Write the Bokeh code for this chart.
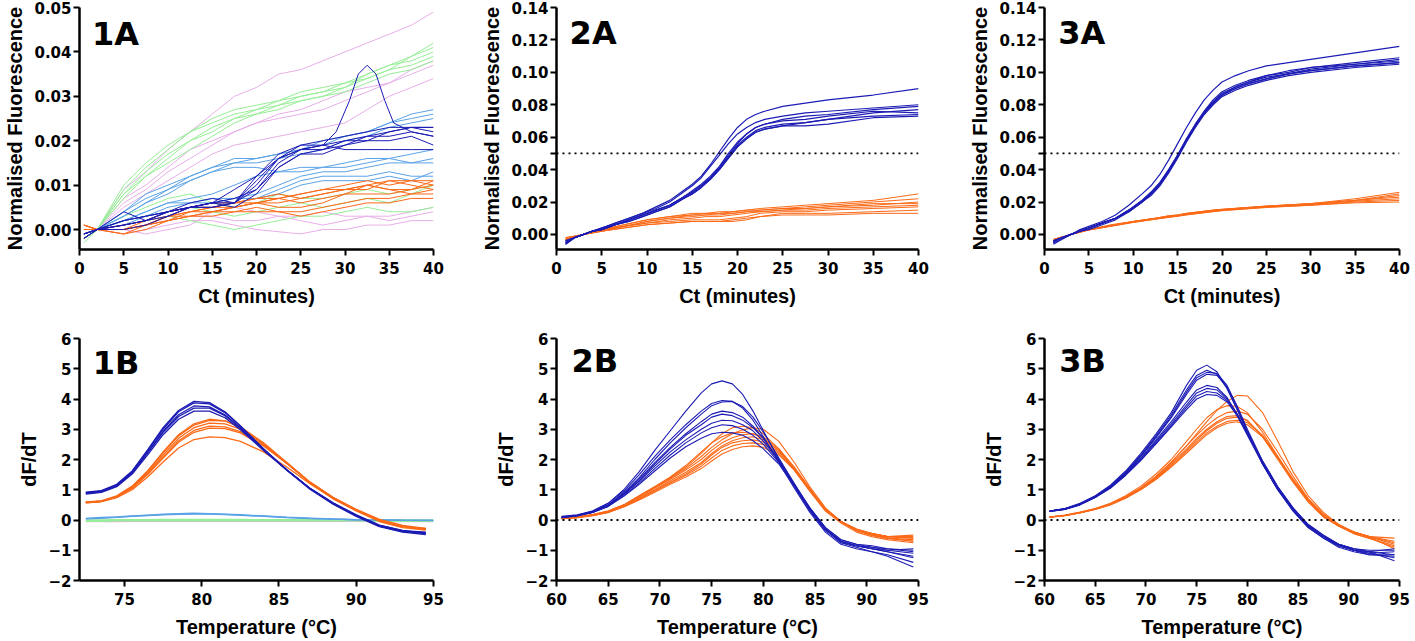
from bokeh.plotting import figure
from bokeh.layouts import column, row
from bokeh.models import Range1d, FixedTicker, PrintfTickFormatter, Span, Label
from bokeh.embed import file_html
from bokeh.resources import INLINE

# ---------------- colours ----------------
DARK = "#1c1cb4"
ORANGE = "#fb6a18"
LIGHTBLUE = "#5aa2e6"
GREEN = "#96ee96"
PINK = "#e8aee8"

# ---------------- Panel 1A (Ct, minutes) ----------------
x1A = [0.5, 2, 5, 7.5, 10, 12.5, 15, 17.5, 20, 22.5, 25, 27.5, 30, 32.5, 35, 37.5, 40]
pink_1A = [
    [-0.001, 0.0, 0.009, 0.013, 0.018, 0.022, 0.026, 0.030, 0.032, 0.035, 0.036, 0.038, 0.040, 0.042, 0.044, 0.046, 0.049],
    [-0.001, 0.0, 0.007, 0.010, 0.014, 0.018, 0.020, 0.022, 0.024, 0.026, 0.027, 0.029, 0.031, 0.032, 0.033, 0.035, 0.037],
    [-0.001, 0.0, 0.005, 0.008, 0.011, 0.014, 0.017, 0.019, 0.020, 0.021, 0.022, 0.023, 0.024, 0.027, 0.030, 0.032, 0.034],
    [-0.001, 0.0, 0.006, 0.009, 0.013, 0.016, 0.019, 0.022, 0.024, 0.025, 0.026, 0.027, 0.029, 0.031, 0.033, 0.036, 0.038],
    [-0.001, 0.0, -0.001, 0.0, 0.001, 0.002, 0.002, 0.001, 0.000, -0.0005, -0.001, 0.0, 0.0, 0.001, 0.001, 0.002, 0.002],
    [-0.001, 0.0, 0.0, 0.001, 0.002, 0.003, 0.003, 0.002, 0.002, 0.003, 0.002, 0.001, 0.002, 0.003, 0.003, 0.004, 0.005],
    [-0.001, 0.0, 0.0, -0.001, 0.0, 0.001, 0.004, 0.005, 0.004, 0.003, 0.003, 0.004, 0.003, 0.003, 0.002, 0.003, 0.004],
]
green_1A = [
    [-0.002, 0.0, 0.010, 0.015, 0.019, 0.022, 0.025, 0.027, 0.028, 0.029, 0.030, 0.031, 0.033, 0.035, 0.037, 0.039, 0.041],
    [-0.002, 0.0, 0.009, 0.014, 0.018, 0.022, 0.024, 0.026, 0.027, 0.029, 0.031, 0.032, 0.033, 0.034, 0.036, 0.039, 0.042],
    [-0.003, 0.0, 0.008, 0.013, 0.017, 0.020, 0.023, 0.025, 0.027, 0.028, 0.029, 0.030, 0.032, 0.035, 0.037, 0.038, 0.040],
    [-0.002, 0.0, 0.007, 0.012, 0.016, 0.020, 0.022, 0.025, 0.026, 0.027, 0.029, 0.030, 0.031, 0.033, 0.035, 0.036, 0.038],
    [-0.002, 0.0, 0.008, 0.012, 0.015, 0.018, 0.021, 0.024, 0.026, 0.028, 0.030, 0.031, 0.032, 0.034, 0.036, 0.037, 0.039],
    [-0.002, 0.0, 0.002, 0.003, 0.004, 0.005, 0.004, 0.003, 0.004, 0.005, 0.006, 0.005, 0.006, 0.007, 0.006, 0.008, 0.010],
    [-0.002, 0.0, 0.001, 0.002, 0.003, 0.002, 0.001, 0.000, 0.001, 0.002, 0.003, 0.003, 0.004, 0.005, 0.004, 0.004, 0.005],
    [-0.002, 0.0, 0.003, 0.005, 0.007, 0.008, 0.006, 0.005, 0.006, 0.008, 0.007, 0.007, 0.008, 0.009, 0.008, 0.009, 0.010],
]
lightblue_1A = [
    [-0.001, 0.0, 0.004, 0.008, 0.010, 0.012, 0.014, 0.016, 0.016, 0.017, 0.018, 0.020, 0.021, 0.022, 0.024, 0.026, 0.027],
    [-0.001, 0.0, 0.004, 0.007, 0.009, 0.011, 0.013, 0.015, 0.016, 0.017, 0.018, 0.019, 0.021, 0.022, 0.024, 0.025, 0.026],
    [-0.001, 0.0, 0.003, 0.006, 0.009, 0.012, 0.014, 0.015, 0.015, 0.016, 0.017, 0.018, 0.020, 0.021, 0.023, 0.024, 0.025],
    [-0.001, 0.0, 0.003, 0.006, 0.008, 0.011, 0.013, 0.014, 0.014, 0.013, 0.013, 0.014, 0.014, 0.015, 0.016, 0.015, 0.016],
    [-0.001, 0.0, 0.002, 0.004, 0.006, 0.006, 0.007, 0.007, 0.008, 0.010, 0.012, 0.013, 0.013, 0.014, 0.015, 0.015, 0.015],
    [-0.001, 0.0, 0.002, 0.003, 0.005, 0.006, 0.006, 0.007, 0.007, 0.009, 0.011, 0.012, 0.012, 0.012, 0.013, 0.012, 0.012],
    [-0.001, 0.0, 0.001, 0.003, 0.004, 0.005, 0.006, 0.006, 0.007, 0.008, 0.010, 0.011, 0.011, 0.011, 0.012, 0.011, 0.013],
    [-0.001, 0.0, 0.002, 0.004, 0.006, 0.007, 0.008, 0.010, 0.012, 0.013, 0.014, 0.014, 0.015, 0.016, 0.016, 0.017, 0.018],
]
dark_1A = [
    [-0.001, 0.0, 0.002, 0.003, 0.004, 0.005, 0.005, 0.006, 0.012, 0.017, 0.019, 0.019, 0.020, 0.021, 0.022, 0.023, 0.023],
    [-0.002, 0.0, 0.001, 0.002, 0.004, 0.005, 0.006, 0.006, 0.010, 0.016, 0.018, 0.018, 0.019, 0.020, 0.022, 0.023, 0.022],
    [-0.002, 0.0, 0.004, 0.002, 0.003, 0.005, 0.006, 0.007, 0.009, 0.015, 0.018, 0.019, 0.018, 0.018, 0.018, 0.018, 0.018],
    [-0.001, 0.0, 0.000, 0.001, 0.003, 0.005, 0.006, 0.005, 0.008, 0.014, 0.017, 0.017, 0.019, 0.021, 0.021, 0.022, 0.021],
    [-0.001, 0.0, 0.001, 0.002, 0.004, 0.006, 0.007, 0.006, 0.011, 0.016, 0.019, 0.020, 0.021, 0.022, 0.023, 0.023, 0.023],
    [-0.002, 0.0, 0.001, 0.002, 0.004, 0.005, 0.005, 0.006, 0.009, 0.014, 0.017, 0.018, 0.020, 0.020, 0.020, 0.021, 0.019],
]
x1A_spike = [0.5, 2, 5, 7.5, 10, 12.5, 15, 17.5, 20, 22.5, 25, 27.5, 29, 30.5, 31.5, 32.5, 33.5, 34.5, 35.5, 37.5, 40]
dark_1A_spike = [-0.001, 0.0, 0.002, 0.003, 0.004, 0.005, 0.006, 0.009, 0.012, 0.016, 0.018, 0.019, 0.022, 0.029, 0.035, 0.037, 0.035, 0.029, 0.024, 0.022, 0.021]
orange_1A = [
    [0.001, 0.0, 0.000, 0.002, 0.004, 0.005, 0.005, 0.006, 0.007, 0.007, 0.008, 0.009, 0.010, 0.011, 0.010, 0.011, 0.010],
    [0.001, 0.0, -0.001, 0.001, 0.003, 0.004, 0.004, 0.005, 0.006, 0.006, 0.007, 0.008, 0.009, 0.009, 0.011, 0.010, 0.009],
    [0.000, 0.0, 0.000, 0.001, 0.002, 0.004, 0.005, 0.005, 0.006, 0.007, 0.006, 0.007, 0.008, 0.010, 0.009, 0.009, 0.011],
    [0.000, 0.0, 0.001, 0.002, 0.003, 0.003, 0.004, 0.005, 0.006, 0.005, 0.005, 0.006, 0.008, 0.008, 0.008, 0.009, 0.010],
    [0.001, 0.0, 0.000, 0.001, 0.002, 0.003, 0.004, 0.004, 0.005, 0.004, 0.004, 0.005, 0.006, 0.007, 0.007, 0.008, 0.008],
    [0.000, 0.0, -0.001, 0.000, 0.002, 0.003, 0.003, 0.004, 0.004, 0.004, 0.003, 0.004, 0.005, 0.006, 0.006, 0.007, 0.007],
    [0.001, 0.0, 0.000, 0.001, 0.003, 0.005, 0.006, 0.006, 0.006, 0.007, 0.008, 0.009, 0.009, 0.010, 0.011, 0.011, 0.011],
    [0.000, 0.0, 0.000, 0.001, 0.003, 0.004, 0.005, 0.006, 0.007, 0.008, 0.007, 0.008, 0.009, 0.010, 0.009, 0.008, 0.009],
]

# ---------------- Panel 2A ----------------
x2A_blue = [1, 2, 3, 4, 5, 6.5, 8, 9.5, 11, 12.5, 14, 15, 16, 17, 18, 19, 20, 21, 22, 23, 25, 27.5, 30, 35, 40]
blue_2A = [
    [-0.005, -0.002, 0.0, 0.002, 0.004, 0.007, 0.010, 0.013, 0.017, 0.021, 0.027, 0.031, 0.036, 0.043, 0.051, 0.059, 0.066, 0.071, 0.074, 0.076, 0.079, 0.081, 0.083, 0.086, 0.090],
    [-0.004, -0.002, 0.0, 0.002, 0.004, 0.007, 0.010, 0.013, 0.016, 0.020, 0.026, 0.030, 0.035, 0.042, 0.049, 0.056, 0.062, 0.066, 0.069, 0.071, 0.073, 0.075, 0.076, 0.078, 0.080],
    [-0.005, -0.002, 0.0, 0.002, 0.003, 0.006, 0.009, 0.012, 0.015, 0.018, 0.023, 0.026, 0.030, 0.035, 0.041, 0.049, 0.056, 0.062, 0.066, 0.068, 0.071, 0.073, 0.074, 0.077, 0.079],
    [-0.006, -0.002, 0.0, 0.002, 0.003, 0.006, 0.009, 0.012, 0.015, 0.018, 0.023, 0.026, 0.030, 0.035, 0.041, 0.048, 0.055, 0.060, 0.064, 0.066, 0.068, 0.069, 0.071, 0.075, 0.077],
    [-0.005, -0.002, 0.0, 0.002, 0.003, 0.006, 0.008, 0.011, 0.014, 0.017, 0.022, 0.025, 0.029, 0.034, 0.040, 0.047, 0.054, 0.059, 0.063, 0.065, 0.067, 0.067, 0.068, 0.072, 0.073],
    [-0.006, -0.002, 0.0, 0.002, 0.004, 0.006, 0.009, 0.012, 0.015, 0.018, 0.023, 0.027, 0.031, 0.036, 0.042, 0.050, 0.057, 0.062, 0.066, 0.068, 0.070, 0.071, 0.073, 0.076, 0.075],
    [-0.004, -0.002, 0.0, 0.002, 0.003, 0.006, 0.008, 0.011, 0.014, 0.017, 0.022, 0.025, 0.029, 0.034, 0.040, 0.047, 0.054, 0.059, 0.063, 0.065, 0.067, 0.069, 0.071, 0.073, 0.074],
]
x2A_orange = [1, 3, 5, 7.5, 10, 12.5, 15, 16.5, 18, 19.5, 21, 22.5, 25, 27.5, 30, 35, 40]
orange_2A = [
    [-0.003, 0.0, 0.003, 0.006, 0.009, 0.011, 0.013, 0.013, 0.014, 0.014, 0.015, 0.016, 0.017, 0.018, 0.019, 0.021, 0.025],
    [-0.003, 0.0, 0.003, 0.006, 0.009, 0.011, 0.012, 0.013, 0.013, 0.014, 0.015, 0.015, 0.016, 0.017, 0.018, 0.020, 0.022],
    [-0.002, 0.0, 0.003, 0.005, 0.008, 0.010, 0.011, 0.012, 0.012, 0.013, 0.014, 0.014, 0.015, 0.016, 0.017, 0.018, 0.020],
    [-0.003, 0.0, 0.002, 0.005, 0.007, 0.009, 0.010, 0.011, 0.011, 0.012, 0.013, 0.014, 0.015, 0.015, 0.016, 0.017, 0.018],
    [-0.004, 0.0, 0.002, 0.005, 0.007, 0.008, 0.009, 0.009, 0.009, 0.010, 0.011, 0.013, 0.014, 0.014, 0.015, 0.016, 0.017],
    [-0.003, 0.0, 0.002, 0.004, 0.006, 0.007, 0.008, 0.008, 0.008, 0.009, 0.010, 0.011, 0.013, 0.013, 0.013, 0.014, 0.015],
    [-0.003, 0.0, 0.002, 0.004, 0.006, 0.007, 0.008, 0.008, 0.008, 0.008, 0.009, 0.011, 0.012, 0.012, 0.012, 0.013, 0.013],
    [-0.002, 0.0, 0.003, 0.005, 0.008, 0.010, 0.012, 0.012, 0.013, 0.013, 0.014, 0.015, 0.016, 0.016, 0.017, 0.019, 0.019],
]

# ---------------- Panel 3A ----------------
x3A_blue = [1, 2, 3, 4, 5, 6.5, 8, 9.5, 11, 12, 13, 14, 15, 16, 17, 18, 19, 20, 21.5, 23, 25, 27.5, 30, 35, 40]
blue_3A = [
    [-0.006, -0.003, 0.0, 0.003, 0.005, 0.008, 0.012, 0.018, 0.025, 0.030, 0.037, 0.046, 0.056, 0.066, 0.075, 0.083, 0.089, 0.094, 0.098, 0.101, 0.104, 0.106, 0.108, 0.112, 0.116],
    [-0.005, -0.002, 0.0, 0.002, 0.004, 0.007, 0.010, 0.015, 0.021, 0.026, 0.032, 0.040, 0.049, 0.059, 0.068, 0.076, 0.082, 0.087, 0.091, 0.094, 0.097, 0.099, 0.102, 0.105, 0.108],
    [-0.004, -0.002, 0.0, 0.002, 0.004, 0.007, 0.010, 0.015, 0.021, 0.025, 0.031, 0.039, 0.048, 0.058, 0.067, 0.075, 0.081, 0.086, 0.090, 0.093, 0.096, 0.099, 0.101, 0.104, 0.106],
    [-0.005, -0.002, 0.0, 0.002, 0.004, 0.007, 0.010, 0.014, 0.020, 0.025, 0.031, 0.039, 0.048, 0.058, 0.067, 0.075, 0.081, 0.086, 0.091, 0.094, 0.098, 0.100, 0.103, 0.105, 0.107],
    [-0.004, -0.002, 0.0, 0.002, 0.003, 0.006, 0.009, 0.014, 0.020, 0.024, 0.030, 0.038, 0.047, 0.057, 0.066, 0.074, 0.080, 0.085, 0.089, 0.092, 0.095, 0.098, 0.100, 0.103, 0.105],
    [-0.005, -0.002, 0.0, 0.002, 0.004, 0.007, 0.010, 0.015, 0.021, 0.026, 0.032, 0.040, 0.049, 0.059, 0.068, 0.076, 0.083, 0.088, 0.092, 0.095, 0.098, 0.101, 0.103, 0.106, 0.109],
    [-0.004, -0.002, 0.0, 0.002, 0.004, 0.007, 0.010, 0.014, 0.020, 0.025, 0.031, 0.039, 0.048, 0.058, 0.067, 0.075, 0.081, 0.086, 0.090, 0.093, 0.096, 0.099, 0.101, 0.104, 0.106],
]
x3A_orange = [1, 3, 5, 7.5, 10, 12.5, 14, 15, 16, 17.5, 19, 20, 22.5, 25, 30, 35, 40]
orange_3A = [
    [-0.004, 0.0, 0.003, 0.006, 0.008, 0.010, 0.0115, 0.012, 0.013, 0.014, 0.015, 0.0155, 0.0165, 0.0175, 0.019, 0.022, 0.026],
    [-0.004, 0.0, 0.003, 0.0055, 0.008, 0.010, 0.0115, 0.012, 0.013, 0.014, 0.015, 0.0155, 0.0165, 0.0175, 0.019, 0.021, 0.025],
    [-0.003, 0.0, 0.003, 0.0055, 0.008, 0.010, 0.011, 0.0118, 0.0128, 0.0138, 0.0148, 0.0153, 0.0163, 0.0173, 0.019, 0.021, 0.024],
    [-0.004, 0.0, 0.003, 0.0055, 0.0078, 0.0098, 0.011, 0.0117, 0.0126, 0.0136, 0.0146, 0.0152, 0.0162, 0.0172, 0.0185, 0.021, 0.023],
    [-0.004, 0.0, 0.0028, 0.0052, 0.0076, 0.0096, 0.0108, 0.0115, 0.0124, 0.0134, 0.0144, 0.015, 0.016, 0.017, 0.0185, 0.0205, 0.022],
    [-0.003, 0.0, 0.0028, 0.0052, 0.0075, 0.0095, 0.0106, 0.0113, 0.0122, 0.0132, 0.0142, 0.0148, 0.0158, 0.0168, 0.018, 0.020, 0.021],
    [-0.004, 0.0, 0.0027, 0.005, 0.0074, 0.0094, 0.0105, 0.0112, 0.012, 0.013, 0.014, 0.0146, 0.0156, 0.0166, 0.018, 0.0195, 0.020],
]

# ---------------- Panel 1B (melt derivative) ----------------
x1B = [72.5, 73.5, 74.5, 75.5, 76.5, 77.5, 78.5, 79.5, 80.5, 81.5, 82.5, 84, 85.5, 87, 88.5, 90, 91.5, 93, 94.5]
blue_1B = [
    [0.92, 0.97, 1.18, 1.62, 2.32, 3.05, 3.62, 3.92, 3.88, 3.58, 3.12, 2.35, 1.65, 1.02, 0.52, 0.12, -0.22, -0.40, -0.48],
    [0.90, 0.95, 1.15, 1.60, 2.30, 3.00, 3.58, 3.87, 3.84, 3.55, 3.10, 2.36, 1.66, 1.05, 0.55, 0.15, -0.20, -0.38, -0.45],
    [0.88, 0.93, 1.12, 1.55, 2.24, 2.93, 3.48, 3.77, 3.74, 3.48, 3.05, 2.33, 1.66, 1.05, 0.55, 0.14, -0.20, -0.37, -0.42],
    [0.90, 0.95, 1.14, 1.56, 2.22, 2.90, 3.42, 3.70, 3.70, 3.45, 3.03, 2.32, 1.65, 1.04, 0.56, 0.16, -0.18, -0.35, -0.40],
    [0.86, 0.91, 1.10, 1.52, 2.15, 2.82, 3.33, 3.60, 3.60, 3.38, 2.98, 2.30, 1.65, 1.05, 0.57, 0.17, -0.17, -0.34, -0.44],
]
orange_1B = [
    [0.58, 0.62, 0.78, 1.10, 1.62, 2.25, 2.82, 3.18, 3.33, 3.28, 3.05, 2.52, 1.88, 1.22, 0.70, 0.30, -0.05, -0.25, -0.33],
    [0.60, 0.63, 0.80, 1.12, 1.62, 2.22, 2.78, 3.14, 3.29, 3.28, 3.08, 2.55, 1.90, 1.25, 0.72, 0.32, -0.03, -0.22, -0.30],
    [0.58, 0.62, 0.77, 1.08, 1.56, 2.15, 2.70, 3.05, 3.20, 3.18, 3.00, 2.52, 1.90, 1.25, 0.74, 0.33, -0.02, -0.22, -0.28],
    [0.57, 0.61, 0.76, 1.06, 1.52, 2.08, 2.62, 2.96, 3.10, 3.08, 2.92, 2.48, 1.88, 1.25, 0.74, 0.34, 0.00, -0.20, -0.30],
    [0.58, 0.62, 0.76, 1.05, 1.50, 2.05, 2.57, 2.90, 3.04, 3.02, 2.88, 2.45, 1.87, 1.26, 0.75, 0.35, 0.02, -0.18, -0.28],
    [0.57, 0.61, 0.74, 1.00, 1.42, 1.92, 2.38, 2.66, 2.75, 2.72, 2.60, 2.25, 1.75, 1.20, 0.72, 0.33, 0.00, -0.20, -0.30],
]
x1B_flat = [72.5, 73.5, 74.5, 75.5, 76.5, 77.5, 78.5, 79.5, 80.5, 81.5, 82.5, 84, 85.5, 87, 88.5, 90, 91.5, 93, 95]
lightblue_1B = [
    [0.05, 0.08, 0.10, 0.13, 0.16, 0.19, 0.21, 0.22, 0.21, 0.19, 0.17, 0.13, 0.09, 0.06, 0.03, 0.01, 0.00, -0.01, -0.02],
    [0.04, 0.06, 0.09, 0.12, 0.15, 0.17, 0.19, 0.20, 0.20, 0.18, 0.16, 0.12, 0.08, 0.05, 0.03, 0.01, 0.00, -0.01, -0.01],
]
green_1B = [
    [-0.01, -0.01, 0.00, 0.00, 0.00, 0.01, 0.01, 0.01, 0.01, 0.01, 0.01, 0.00, 0.00, 0.00, 0.00, 0.00, -0.01, -0.01, -0.02],
    [-0.03, -0.03, -0.02, -0.02, -0.02, -0.02, -0.02, -0.02, -0.02, -0.02, -0.02, -0.02, -0.02, -0.02, -0.02, -0.02, -0.03, -0.03, -0.03],
]
pink_1B = [-0.05, -0.05, -0.05, -0.04, -0.04, -0.04, -0.04, -0.04, -0.04, -0.04, -0.04, -0.04, -0.04, -0.04, -0.04, -0.04, -0.05, -0.05, -0.05]

# ---------------- Panels 2B / 3B ----------------
xB = [60.5, 62, 63.5, 65, 66.5, 68, 69.5, 71, 72.5, 74, 75, 76, 77, 78, 79, 80, 81.5, 83, 84.5, 86, 87.5, 89, 90.5, 92, 94.5]
blue_2B = [
    [0.10, 0.15, 0.30, 0.55, 1.00, 1.60, 2.30, 2.95, 3.60, 4.20, 4.50, 4.60, 4.50, 4.15, 3.60, 2.95, 2.00, 1.10, 0.30, -0.35, -0.75, -0.90, -1.05, -1.20, -1.55],
    [0.12, 0.17, 0.30, 0.55, 0.95, 1.50, 2.10, 2.65, 3.15, 3.60, 3.85, 3.95, 3.92, 3.70, 3.30, 2.75, 1.90, 1.05, 0.25, -0.40, -0.80, -0.95, -1.05, -1.15, -1.40],
    [0.10, 0.15, 0.28, 0.50, 0.90, 1.40, 2.00, 2.55, 3.05, 3.50, 3.78, 3.90, 3.92, 3.75, 3.40, 2.90, 2.05, 1.20, 0.35, -0.30, -0.70, -0.85, -0.95, -1.05, -1.25],
    [0.10, 0.15, 0.28, 0.50, 0.88, 1.35, 1.90, 2.40, 2.85, 3.25, 3.50, 3.60, 3.55, 3.40, 3.10, 2.70, 1.95, 1.15, 0.35, -0.30, -0.75, -0.85, -0.90, -1.00, -1.10],
    [0.08, 0.14, 0.26, 0.48, 0.85, 1.30, 1.85, 2.35, 2.80, 3.15, 3.40, 3.50, 3.45, 3.30, 3.05, 2.70, 2.00, 1.20, 0.40, -0.25, -0.65, -0.80, -0.85, -0.95, -1.00],
    [0.10, 0.15, 0.27, 0.48, 0.85, 1.28, 1.78, 2.25, 2.65, 3.00, 3.20, 3.30, 3.28, 3.15, 2.95, 2.60, 1.95, 1.15, 0.35, -0.30, -0.70, -0.85, -0.95, -1.05, -1.20],
    [0.08, 0.13, 0.25, 0.45, 0.80, 1.22, 1.70, 2.15, 2.55, 2.88, 3.05, 3.15, 3.12, 3.00, 2.80, 2.50, 1.90, 1.15, 0.40, -0.25, -0.65, -0.80, -0.90, -0.95, -1.05],
    [0.10, 0.14, 0.25, 0.45, 0.78, 1.18, 1.62, 2.05, 2.42, 2.70, 2.85, 2.90, 2.88, 2.80, 2.62, 2.35, 1.85, 1.10, 0.35, -0.30, -0.70, -0.85, -0.95, -1.00, -0.95],
]
orange_2B = [
    [0.05, 0.10, 0.18, 0.30, 0.50, 0.80, 1.10, 1.40, 1.75, 2.20, 2.55, 2.85, 3.05, 3.10, 3.05, 2.85, 2.35, 1.65, 0.95, 0.30, -0.10, -0.40, -0.55, -0.65, -0.75],
    [0.05, 0.10, 0.17, 0.28, 0.48, 0.78, 1.08, 1.38, 1.70, 2.10, 2.40, 2.65, 2.85, 2.98, 3.05, 3.00, 2.60, 1.90, 1.10, 0.40, -0.05, -0.35, -0.50, -0.60, -0.70],
    [0.05, 0.09, 0.16, 0.28, 0.48, 0.75, 1.05, 1.35, 1.65, 2.00, 2.30, 2.55, 2.72, 2.82, 2.85, 2.75, 2.35, 1.75, 1.05, 0.35, -0.05, -0.35, -0.50, -0.60, -0.65],
    [0.05, 0.09, 0.16, 0.27, 0.46, 0.72, 1.00, 1.30, 1.58, 1.90, 2.20, 2.45, 2.62, 2.72, 2.75, 2.65, 2.30, 1.70, 1.00, 0.35, -0.05, -0.35, -0.45, -0.55, -0.60],
    [0.04, 0.08, 0.15, 0.26, 0.45, 0.70, 0.98, 1.25, 1.52, 1.85, 2.15, 2.40, 2.55, 2.62, 2.65, 2.58, 2.25, 1.70, 1.00, 0.35, -0.05, -0.30, -0.45, -0.55, -0.50],
    [0.04, 0.08, 0.15, 0.25, 0.44, 0.68, 0.95, 1.22, 1.48, 1.78, 2.05, 2.30, 2.45, 2.53, 2.55, 2.50, 2.20, 1.65, 0.95, 0.30, -0.05, -0.35, -0.45, -0.55, -0.55],
    [0.05, 0.10, 0.18, 0.30, 0.50, 0.80, 1.10, 1.42, 1.80, 2.25, 2.55, 2.75, 2.88, 2.90, 2.85, 2.70, 2.30, 1.70, 1.00, 0.35, -0.05, -0.35, -0.50, -0.60, -0.70],
    [0.04, 0.08, 0.14, 0.25, 0.43, 0.66, 0.92, 1.18, 1.42, 1.70, 1.95, 2.18, 2.33, 2.42, 2.45, 2.40, 2.15, 1.65, 1.00, 0.35, -0.05, -0.30, -0.45, -0.55, -0.60],
]
blue_3B = [
    [0.30, 0.38, 0.55, 0.80, 1.15, 1.62, 2.20, 2.85, 3.55, 4.45, 4.95, 5.12, 4.90, 4.35, 3.65, 2.90, 1.85, 1.00, 0.35, -0.20, -0.55, -0.80, -0.95, -1.05, -1.35],
    [0.30, 0.37, 0.53, 0.78, 1.12, 1.58, 2.15, 2.80, 3.48, 4.30, 4.78, 4.95, 4.82, 4.35, 3.65, 2.90, 1.85, 1.00, 0.30, -0.25, -0.60, -0.85, -1.00, -1.10, -1.25],
    [0.28, 0.36, 0.52, 0.77, 1.10, 1.56, 2.12, 2.75, 3.42, 4.22, 4.70, 4.88, 4.85, 4.45, 3.75, 2.95, 1.90, 1.05, 0.35, -0.20, -0.55, -0.80, -0.95, -1.05, -1.15],
    [0.30, 0.37, 0.53, 0.77, 1.10, 1.55, 2.10, 2.72, 3.38, 4.15, 4.62, 4.82, 4.78, 4.40, 3.75, 3.00, 1.95, 1.10, 0.40, -0.15, -0.50, -0.80, -1.00, -1.10, -1.05],
    [0.28, 0.35, 0.50, 0.75, 1.08, 1.52, 2.05, 2.65, 3.25, 3.90, 4.30, 4.45, 4.38, 4.05, 3.50, 2.85, 1.90, 1.05, 0.35, -0.20, -0.55, -0.85, -1.00, -1.15, -1.20],
    [0.30, 0.36, 0.52, 0.76, 1.08, 1.50, 2.02, 2.60, 3.18, 3.80, 4.20, 4.35, 4.30, 4.00, 3.50, 2.85, 1.90, 1.05, 0.35, -0.20, -0.55, -0.85, -1.00, -1.05, -0.95],
    [0.28, 0.35, 0.50, 0.74, 1.05, 1.48, 1.98, 2.55, 3.12, 3.72, 4.10, 4.25, 4.20, 3.95, 3.45, 2.80, 1.85, 1.00, 0.30, -0.25, -0.60, -0.90, -1.05, -1.15, -1.15],
    [0.30, 0.36, 0.51, 0.75, 1.07, 1.48, 1.97, 2.52, 3.08, 3.65, 4.00, 4.15, 4.12, 3.90, 3.45, 2.85, 1.95, 1.10, 0.40, -0.15, -0.50, -0.80, -0.95, -1.00, -1.00],
]
orange_3B = [
    [0.10, 0.15, 0.24, 0.36, 0.52, 0.75, 1.05, 1.42, 1.90, 2.45, 2.85, 3.25, 3.62, 3.92, 4.12, 4.10, 3.55, 2.60, 1.60, 0.80, 0.25, -0.15, -0.40, -0.55, -0.70],
    [0.10, 0.16, 0.26, 0.38, 0.55, 0.80, 1.12, 1.52, 2.00, 2.60, 3.00, 3.38, 3.65, 3.78, 3.75, 3.55, 2.90, 2.10, 1.30, 0.60, 0.10, -0.20, -0.40, -0.55, -0.60],
    [0.10, 0.15, 0.25, 0.37, 0.53, 0.77, 1.07, 1.45, 1.92, 2.45, 2.80, 3.12, 3.38, 3.55, 3.60, 3.50, 3.00, 2.25, 1.45, 0.70, 0.15, -0.20, -0.40, -0.55, -0.80],
    [0.10, 0.15, 0.25, 0.37, 0.52, 0.75, 1.05, 1.40, 1.85, 2.35, 2.70, 3.00, 3.25, 3.42, 3.45, 3.30, 2.75, 2.00, 1.25, 0.60, 0.10, -0.20, -0.40, -0.55, -0.75],
    [0.09, 0.14, 0.24, 0.36, 0.51, 0.74, 1.03, 1.38, 1.82, 2.30, 2.65, 2.95, 3.20, 3.36, 3.40, 3.28, 2.80, 2.05, 1.30, 0.65, 0.15, -0.20, -0.45, -0.60, -0.85],
    [0.10, 0.15, 0.24, 0.36, 0.51, 0.73, 1.02, 1.36, 1.78, 2.25, 2.58, 2.88, 3.10, 3.26, 3.30, 3.22, 2.80, 2.10, 1.35, 0.70, 0.20, -0.15, -0.40, -0.55, -0.95],
    [0.09, 0.14, 0.23, 0.35, 0.50, 0.72, 1.00, 1.34, 1.75, 2.20, 2.52, 2.82, 3.05, 3.20, 3.25, 3.15, 2.75, 2.05, 1.30, 0.65, 0.15, -0.20, -0.45, -0.60, -0.90],
]

# ---------------- ticks / labels ----------------
ticks_ct = [0, 5, 10, 15, 20, 25, 30, 35, 40]
ticks_1A_y = [0.0, 0.01, 0.02, 0.03, 0.04, 0.05]
ticks_A_y = [0.0, 0.02, 0.04, 0.05, 0.06, 0.08, 0.10, 0.12, 0.14]
ticks_1B_x = [75, 80, 85, 90, 95]
ticks_B_x = [60, 65, 70, 75, 80, 85, 90, 95]
ticks_B_y = [-2, -1, 0, 1, 2, 3, 4, 5, 6]
threshold_A = 0.05
baseline_B = 0.0

XLAB_A = "Ct (minutes)"
YLAB_A = "Normalised Fluorescence"
XLAB_B = "Temperature (\u00b0C)"
YLAB_B = "dF/dT"

# (frame_width, min_border_left, min_border_right) per column
COLS = [(354, 79, 45), (362, 78, 48), (355, 78, 14)]
# (frame_height, min_border_top, min_border_bottom) per row
ROWS = [(242, 7, 81), (242, 8, 61)]


def make_fig(col, r, xr, yr):
    fw, bl, br = COLS[col]
    fh, bt, bb = ROWS[r]
    p = figure(frame_width=fw, frame_height=fh, x_range=Range1d(*xr), y_range=Range1d(*yr),
               min_border_left=bl, min_border_right=br, min_border_top=bt,
               min_border_bottom=bb, output_backend="svg", toolbar_location=None)
    p.grid.visible = False
    p.outline_line_color = None
    p.background_fill_color = "white"
    p.border_fill_color = "white"
    for ax in (p.xaxis[0], p.yaxis[0]):
        ax.axis_line_width = 2.5
        ax.axis_line_color = "black"
        ax.major_tick_line_width = 2
        ax.major_tick_line_color = "black"
        ax.major_tick_out = 6
        ax.major_tick_in = 0
        ax.minor_tick_out = 0
        ax.minor_tick_in = 0
        ax.major_label_text_font = "DejaVu Sans"
        ax.major_label_text_font_style = "bold"
        ax.major_label_text_font_size = "15px"
        ax.major_label_text_color = "black"
        ax.axis_label_text_font = "Liberation Sans"
        ax.axis_label_text_font_style = "bold"
        ax.axis_label_text_font_size = "20px"
        ax.axis_label_text_color = "black"
    p.yaxis.major_label_standoff = 2
    p.yaxis.axis_label_standoff = 5
    p.xaxis.major_label_standoff = 6
    p.xaxis.axis_label_standoff = 8
    return p


def add_lines(p, xs, groups, color, width=1.0, alpha=1.0):
    for ys in groups:
        p.line(xs, ys, line_color=color, line_width=width, line_alpha=alpha)


def panel_label(p, x, y, text):
    p.add_layout(Label(x=x, y=y, text=text, text_font="DejaVu Sans",
                       text_font_style="bold", text_font_size="32px",
                       text_color="black", text_baseline="alphabetic"))


def style_A(p, yticks, fmt_overrides=None):
    p.xaxis.ticker = FixedTicker(ticks=ticks_ct)
    p.yaxis.ticker = FixedTicker(ticks=yticks)
    p.yaxis.formatter = PrintfTickFormatter(format="%.2f")
    if fmt_overrides:
        p.yaxis.major_label_overrides = fmt_overrides
    p.xaxis.axis_label = XLAB_A
    p.yaxis.axis_label = YLAB_A


def style_B(p, xticks):
    p.xaxis.ticker = FixedTicker(ticks=xticks)
    p.yaxis.ticker = FixedTicker(ticks=ticks_B_y)
    p.xaxis.axis_label = XLAB_B
    p.yaxis.axis_label = YLAB_B


def dotted(p, loc):
    p.add_layout(Span(location=loc, dimension="width", line_color="black",
                      line_dash="2 4", line_width=1.8))


# ---- 1A
p1 = make_fig(0, 0, (0, 40), (-0.0045, 0.05))
style_A(p1, ticks_1A_y)
add_lines(p1, x1A, pink_1A, PINK, 1.0)
add_lines(p1, x1A, green_1A, GREEN, 1.0)
add_lines(p1, x1A, lightblue_1A, LIGHTBLUE, 1.0)
add_lines(p1, x1A, orange_1A, ORANGE, 1.0)
add_lines(p1, x1A, dark_1A, DARK, 1.0)
p1.line(x1A_spike, dark_1A_spike, line_color=DARK, line_width=1.0)
panel_label(p1, 1.4, 0.0441, "1A")

# ---- 2A
p2 = make_fig(1, 0, (0, 40), (-0.0093, 0.14))
style_A(p2, ticks_A_y, {0.05: ""})
dotted(p2, threshold_A)
add_lines(p2, x2A_orange, orange_2A, ORANGE, 1.0)
add_lines(p2, x2A_blue, blue_2A, DARK, 1.2)
panel_label(p2, 1.45, 0.1245, "2A")

# ---- 3A
p3 = make_fig(2, 0, (0, 40), (-0.0093, 0.14))
style_A(p3, ticks_A_y, {0.05: ""})
dotted(p3, threshold_A)
add_lines(p3, x3A_orange, orange_3A, ORANGE, 1.0)
add_lines(p3, x3A_blue, blue_3A, DARK, 1.2)
panel_label(p3, 1.55, 0.1245, "3A")

# ---- 1B
p4 = make_fig(0, 1, (72.09, 95), (-2, 6))
style_B(p4, ticks_1B_x)
p4.line(x1B_flat, pink_1B, line_color=PINK, line_width=1.5)
add_lines(p4, x1B_flat, green_1B, GREEN, 2.0)
add_lines(p4, x1B_flat, lightblue_1B, LIGHTBLUE, 1.5)
add_lines(p4, x1B, orange_1B, ORANGE, 1.3)
add_lines(p4, x1B, blue_1B, DARK, 1.3)
panel_label(p4, 72.95, 5.2, "1B")

# ---- 2B
p5 = make_fig(1, 1, (60, 95), (-2, 6))
style_B(p5, ticks_B_x)
dotted(p5, baseline_B)
add_lines(p5, xB, orange_2B, ORANGE, 1.1)
add_lines(p5, xB, blue_2B, DARK, 1.1)
panel_label(p5, 61.45, 5.24, "2B")

# ---- 3B
p6 = make_fig(2, 1, (60, 95), (-2, 6))
style_B(p6, ticks_B_x)
dotted(p6, baseline_B)
add_lines(p6, xB, orange_3B, ORANGE, 1.1)
add_lines(p6, xB, blue_3B, DARK, 1.1)
panel_label(p6, 61.45, 5.24, "3B")

layout = column(row(p1, p2, p3), row(p4, p5, p6))
open("out.html", "w").write(file_html(layout, INLINE))
